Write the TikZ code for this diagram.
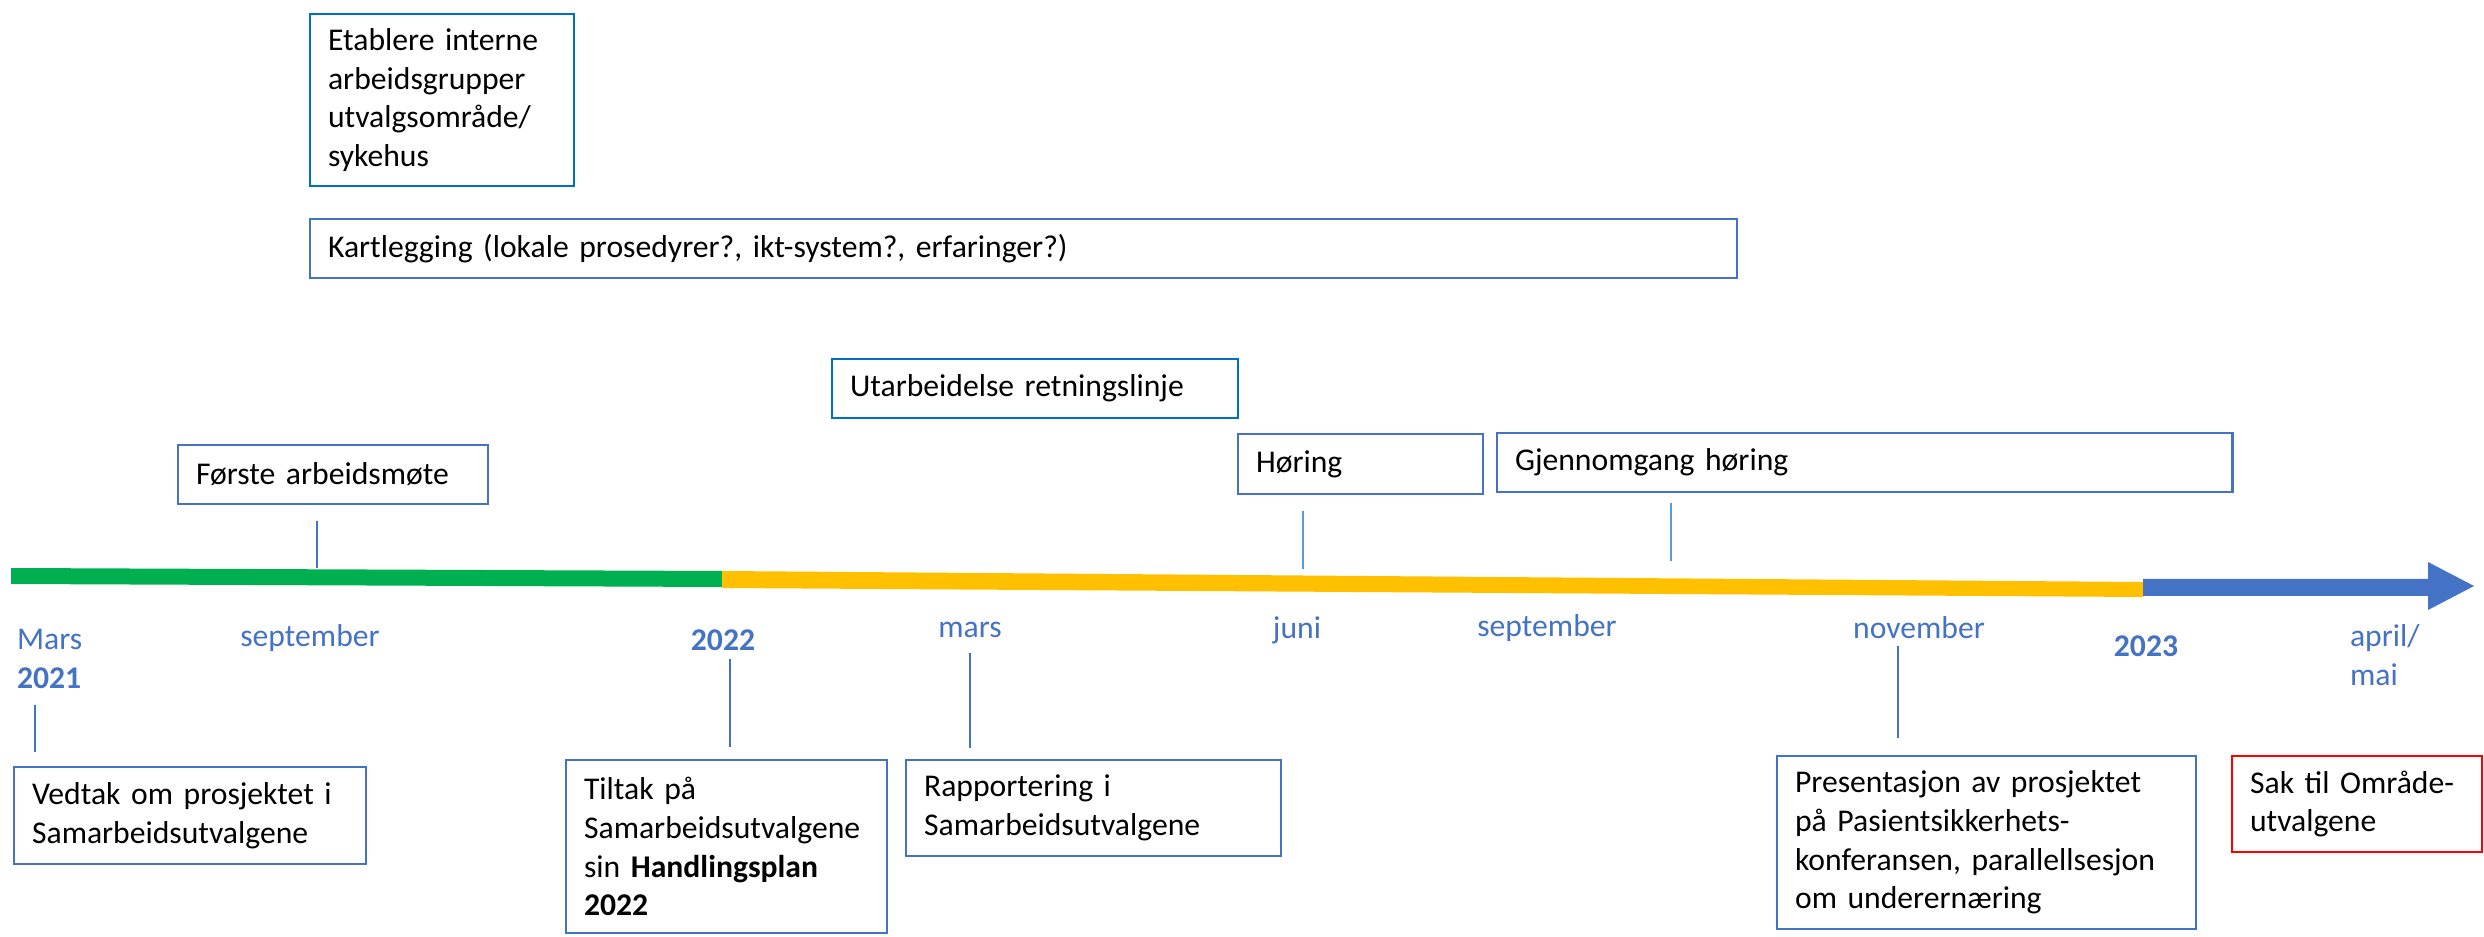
\documentclass[tikz,border=0pt]{standalone}
\usepackage{fontspec}
\setmainfont{Carlito}
\usetikzlibrary{positioning}
\definecolor{boxblue}{HTML}{4472C4}
\definecolor{darkblue}{HTML}{0070C0}
\definecolor{tickblue}{HTML}{5B9BD5}
\definecolor{bargreen}{HTML}{00B050}
\definecolor{baryellow}{HTML}{FFC000}
\definecolor{boxred}{HTML}{FF0000}

\begin{document}
\begin{tikzpicture}[x=.01cm,y=-.01cm,line width=.6pt,font=\fontsize{9}{11}\selectfont] % one unit = one pixel
\tikzstyle{task}=[draw=boxblue,anchor=north west,align=left,inner xsep=.18cm,inner ysep=0pt]
\tikzstyle{month}=[text=boxblue,inner sep=0pt]
\tikzstyle{tick}=[draw=boxblue,line width=.5pt]
\useasboundingbox (0,0) rectangle (2484,937);

% time line
\fill[bargreen] (11,568) -- (722,571) -- (722,587) -- (11,584) -- cycle; % 2021
\fill[baryellow] (722,571) -- (2143,582) -- (2143,597) -- (722,588) -- cycle; % 2022
\fill[boxblue] (2143,579) -- (2428,579) -- (2428,562) -- (2474,586) -- (2428,610) -- (2428,596) -- (2143,596) -- cycle; % 2023

% boxes above the line
\draw (309,13) node[task,draw=darkblue,text width=2.28cm,minimum height=1.72cm] (etablere) {Etablere interne\\arbeidsgrupper\\utvalgsområde/\\sykehus};
\draw (309,218) node[task,text width=13.9cm,minimum height=.59cm] (kartlegging) {Kartlegging (lokale prosedyrer?, ikt-system?, erfaringer?)};
\draw (831,358) node[task,draw=darkblue,text width=3.7cm,minimum height=.59cm] (utarbeidelse) {Utarbeidelse retningslinje};
\draw (177,444) node[task,text width=2.74cm,minimum height=.59cm] (forste) {Første arbeidsmøte};
\draw (1237,433) node[task,text width=2.09cm,minimum height=.6cm] (horing) {Høring};
\draw (1496,432) node[task,text width=6.99cm,minimum height=.59cm] (gjennomgang) {Gjennomgang høring};

% boxes below the line
\draw (13,766) node[task,text width=3.16cm,minimum height=.97cm] (vedtak) {Vedtak om prosjektet i\\Samarbeidsutvalgene};
\draw (565,759) node[task,text width=2.85cm,minimum height=1.73cm] (tiltak) {Tiltak på\\Samarbeidsutvalgene\\sin \textbf{Handlingsplan}\\\textbf{2022}};
\draw (905,759) node[task,text width=3.39cm,minimum height=.96cm] (rapportering) {Rapportering i\\Samarbeidsutvalgene};
\draw (1776,755) node[task,text width=3.83cm,minimum height=1.73cm] (presentasjon) {Presentasjon av prosjektet\\på Pasientsikkerhets-\\konferansen, parallellsesjon\\om underernæring};
\draw (2231,755) node[task,draw=boxred,text width=2.14cm,minimum height=.96cm] (sak) {Sak til Område-\\utvalgene};

% months
\draw (16,659) node[month,anchor=west,align=left] (mars21) {Mars\\\textbf{2021}};
\draw (310,638) node[month] (sep21) {september};
\draw (723,640) node[month] (y22) {\textbf{2022}};
\draw (970,630) node[month] (mars22) {mars};
\draw (1297,630) node[month] (juni22) {juni};
\draw (1547,628) node[month] (sep22) {september};
\draw (1919,628) node[month] (nov22) {november};
\draw (2146,646) node[month] (y23) {\textbf{2023}};
\draw (2349,655) node[month,anchor=west,align=left] (april23) {april/\\mai};

% ticks
\coordinate (forsteA) at (317,521); \coordinate (forsteB) at (317,568);
\coordinate (horingA) at (1303,511); \coordinate (horingB) at (1303,569);
\coordinate (gjennA) at (1671,503); \coordinate (gjennB) at (1671,561);
\coordinate (vedtakA) at (35,705); \coordinate (vedtakB) at (35,752);
\coordinate (tiltakA) at (730,659); \coordinate (tiltakB) at (730,747);
\coordinate (rappA) at (970,653); \coordinate (rappB) at (970,748);
\coordinate (presA) at (1898,646); \coordinate (presB) at (1898,738);
\draw[tick] (forsteA) -- (forsteB);
\draw[tick,draw=tickblue] (horingA) -- (horingB);
\draw[tick,draw=tickblue] (gjennA) -- (gjennB);
\draw[tick] (vedtakA) -- (vedtakB);
\draw[tick] (tiltakA) -- (tiltakB);
\draw[tick] (rappA) -- (rappB);
\draw[tick] (presA) -- (presB);
\end{tikzpicture}
\end{document}
